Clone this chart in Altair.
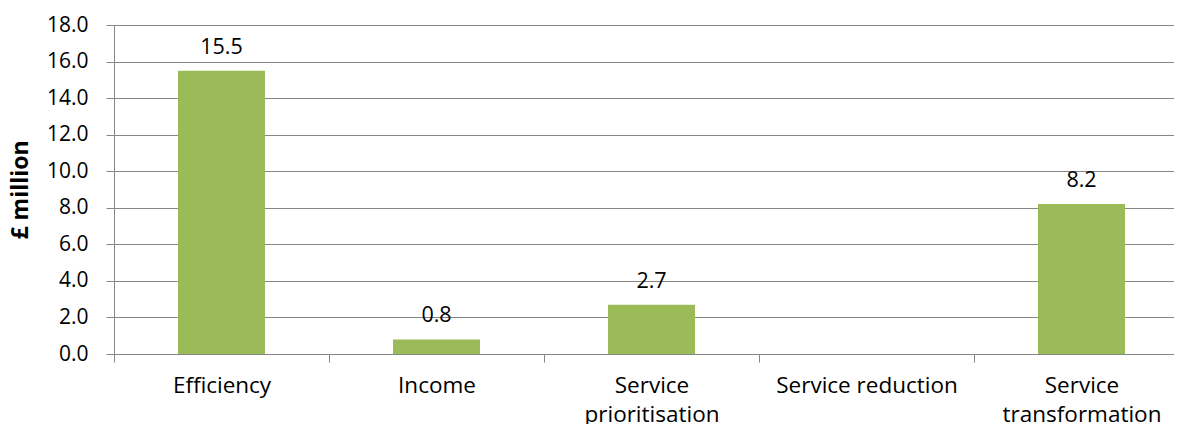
import altair as alt
import pandas as pd

categories = ["Efficiency", "Income", "Service prioritisation", "Service reduction", "Service transformation"]
values = [15.5, 0.8, 2.7, None, 8.2]
y_ticks = [0, 2, 4, 6, 8, 10, 12, 14, 16, 18]

df = pd.DataFrame({"category": categories, "value": values})

FONT = "Open Sans"
GRAY = "#868686"

x = alt.X(
    "category:N",
    sort=categories,
    scale=alt.Scale(paddingInner=0, paddingOuter=0),
    axis=alt.Axis(
        title=None,
        labelAngle=0,
        labelFont=FONT,
        labelFontSize=22.5,
        labelColor="black",
        labelPadding=12,
        labelLineHeight=29,
        labelBaseline="top",
        labelExpr="indexof(['Service prioritisation','Service transformation'], datum.value) >= 0 ? split(datum.value, ' ') : datum.value",
        tickBand="extent",
        tickSize=8,
        tickColor=GRAY,
        domainColor=GRAY,
        labelLimit=400,
    ),
)

y = alt.Y(
    "value:Q",
    scale=alt.Scale(domain=[0, 18], nice=False),
    axis=alt.Axis(
        title="£ million",
        titleFont=FONT,
        titleFontSize=23,
        titleFontWeight="bold",
        titleColor="black",
        titleX=-94,
        titleBaseline="middle",
        values=y_ticks,
        tickCount=12,
        format=".1f",
        labelFont=FONT,
        labelFontSize=21,
        labelColor="black",
        labelPadding=18,
        labelOverlap=False,
        labelFlush=False,
        tickSize=8,
        tickColor=GRAY,
        domainColor=GRAY,
        gridColor=GRAY,
        gridWidth=1,
    ),
)

bars = alt.Chart(df).mark_bar(size=87, color="#9BBB59").encode(x=x, y=y)

labels = alt.Chart(df).transform_filter("datum.value != null").mark_text(
    font=FONT, fontSize=21.5, color="black", baseline="middle", dy=-23
).encode(x=alt.X("category:N", sort=categories), y="value:Q", text=alt.Text("value:Q", format=".1f"))

chart = (
    alt.layer(bars, labels)
    .properties(
        width=1075,
        height=329,
        autosize=alt.AutoSizeParams(type="none"),
        padding={"left": 106, "top": 17, "right": -15, "bottom": 70},
    )
    .configure_view(stroke=None)
)

chart.save("out.html", embed_options={"renderer": "svg", "actions": False})
